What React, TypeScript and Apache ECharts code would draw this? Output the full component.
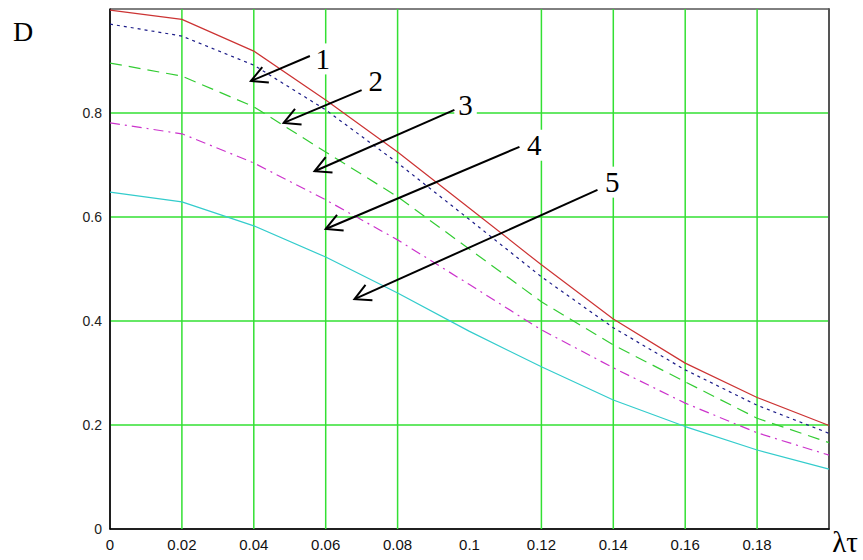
import React, { useEffect, useRef } from "react";
import * as echarts from "echarts";

const xValues = [0, 0.02, 0.04, 0.06, 0.08, 0.1, 0.12, 0.14, 0.16, 0.18, 0.2];
const curve1 = [0.998, 0.98, 0.919, 0.825, 0.725, 0.617, 0.508, 0.404, 0.319, 0.253, 0.199];
const curve2 = [0.971, 0.948, 0.892, 0.806, 0.704, 0.595, 0.485, 0.387, 0.306, 0.238, 0.184];
const curve3 = [0.896, 0.871, 0.812, 0.725, 0.639, 0.538, 0.437, 0.354, 0.283, 0.213, 0.166];
const curve4 = [0.781, 0.76, 0.704, 0.633, 0.556, 0.47, 0.383, 0.31, 0.242, 0.185, 0.142];
const curve5 = [0.648, 0.629, 0.583, 0.523, 0.454, 0.38, 0.312, 0.248, 0.197, 0.152, 0.115];

const xTickLabels = ["0", "0.02", "0.04", "0.06", "0.08", "0.1", "0.12", "0.14", "0.16", "0.18", ""];
const yTickLabels = ["0", "0.2", "0.4", "0.6", "0.8", ""];
const xGridValues = [0.02, 0.04, 0.06, 0.08, 0.12, 0.14, 0.16, 0.18];

// arrow annotations in data coordinates
const arrowLabels = ["1", "2", "3", "4", "5"];
const arrowTails = [
  [0.0556, 0.9096],
  [0.07, 0.844],
  [0.0958, 0.806],
  [0.1139, 0.735],
  [0.1356, 0.652],
];
const arrowTips = [
  [0.0392, 0.8615],
  [0.0483, 0.781],
  [0.0569, 0.688],
  [0.06, 0.577],
  [0.068, 0.442],
];
const labelPos = [
  [0.0592, 0.904],
  [0.0739, 0.8615],
  [0.0989, 0.815],
  [0.118, 0.738],
  [0.1397, 0.667],
];

const GRID_GREEN = "#33e033";
const SERIF = "Liberation Serif, Times New Roman, serif";

export default function App() {
  const ref = useRef<HTMLDivElement>(null);

  useEffect(() => {
    if (!ref.current) return;
    const chart = echarts.init(ref.current, null, { renderer: "svg" });
    const pair = (arr: number[]) => xValues.map((x, i) => [x, arr[i]]);

    const mkLine = (name: string, data: number[], color: string, type: any) => ({
      name,
      type: "line",
      data: pair(data),
      symbol: "none",
      z: 3,
      lineStyle: { color, width: 1.2, type },
      silent: true,
    });

    chart.setOption({
      animation: false,
      backgroundColor: "#ffffff",
      grid: {
        left: 110,
        top: 9,
        right: 34,
        bottom: 31,
        show: true,
        borderColor: "#000",
        borderWidth: 1,
        backgroundColor: "transparent",
      },
      xAxis: [
        {
          type: "value",
          min: 0,
          max: 0.2,
          interval: 0.02,
          axisLine: { show: true, lineStyle: { color: "#000", width: 1.5 } },
          axisTick: { show: false },
          splitLine: { show: false },
          axisLabel: {
            margin: 8,
            color: "#111",
            fontFamily: "Liberation Sans Narrow, Liberation Sans, sans-serif",
            fontSize: 15,
            formatter: (_v: number, i: number) => xTickLabels[i] ?? "",
          },
        },
      ],
      yAxis: [
        {
          type: "value",
          min: 0,
          max: 1,
          interval: 0.2,
          axisLine: { show: true, lineStyle: { color: "#000", width: 1.5 } },
          axisTick: { show: false },
          splitLine: {
            show: true,
            showMinLine: false,
            showMaxLine: false,
            lineStyle: { color: GRID_GREEN, width: 1.5 },
          },
          axisLabel: {
            margin: 8,
            color: "#222",
            fontFamily: "Liberation Sans, Arial, sans-serif",
            fontSize: 14,
            formatter: (_v: number, i: number) => yTickLabels[i] ?? "",
          },
        },
        {
          type: "value",
          position: "right",
          min: 0,
          max: 1,
          axisLine: { show: true, lineStyle: { color: "#555", width: 2 } },
          axisTick: { show: false },
          axisLabel: { show: false },
          splitLine: { show: false },
        },
      ],
      series: [
        {
          type: "custom",
          z: 1,
          silent: true,
          data: xGridValues,
          renderItem: (_params: any, api: any) => {
            const x = api.value(0);
            const p0 = api.coord([x, 0]);
            const p1 = api.coord([x, 1]);
            return {
              type: "line",
              shape: { x1: p0[0], y1: p0[1], x2: p1[0], y2: p1[1] },
              style: { stroke: GRID_GREEN, lineWidth: 1.5 },
            };
          },
          encode: { x: 0 },
        },
        mkLine("1", curve1, "#cc3333", "solid"),
        mkLine("2", curve2, "#1c1c88", [3, 4]),
        mkLine("3", curve3, "#33cc33", [12, 7]),
        mkLine("4", curve4, "#cc33cc", [10, 5, 2, 5]),
        mkLine("5", curve5, "#33cccc", "solid"),
      ],
    });

    const px = (p: number[]) => chart.convertToPixel({ gridIndex: 0 }, p) as number[];
    const graphics: any[] = [];
    const headLen = 18;
    const half = (28 * Math.PI) / 180;
    arrowLabels.forEach((lab, i) => {
      const t = px(arrowTails[i]);
      const h = px(arrowTips[i]);
      const ang = Math.atan2(t[1] - h[1], t[0] - h[0]);
      const a1 = [h[0] + headLen * Math.cos(ang + half), h[1] + headLen * Math.sin(ang + half)];
      const a2 = [h[0] + headLen * Math.cos(ang - half), h[1] + headLen * Math.sin(ang - half)];
      graphics.push({
        type: "line",
        z: 50,
        shape: { x1: t[0], y1: t[1], x2: h[0], y2: h[1] },
        style: { stroke: "#000", lineWidth: 2 },
      });
      graphics.push({
        type: "polyline",
        z: 50,
        shape: { points: [a1, h, a2] },
        style: { stroke: "#000", lineWidth: 2, fill: "none" },
      });
      const lp = px(labelPos[i]);
      graphics.push({
        type: "text",
        z: 49,
        x: lp[0],
        y: lp[1],
        style: {
          text: lab,
          fontFamily: SERIF,
          fontSize: 29,
          fill: "#000",
          align: "center",
          verticalAlign: "middle",
          backgroundColor: "#fff",
          padding: [1, 4, 1, 4],
        },
      });
    });
    graphics.push({
      type: "text",
      x: 23,
      y: 31,
      style: {
        text: "D",
        fontFamily: SERIF,
        fontSize: 28,
        fill: "#000",
        align: "center",
        verticalAlign: "middle",
      },
    });
    graphics.push({
      type: "text",
      x: 845,
      y: 542,
      style: {
        text: "λτ",
        fontFamily: SERIF,
        fontSize: 29,
        fill: "#000",
        align: "center",
        verticalAlign: "middle",
      },
    });
    chart.setOption({ graphic: graphics });

    return () => chart.dispose();
  }, []);

  return (
    <div
      ref={ref}
      style={{ position: "fixed", left: 0, top: 0, width: 863, height: 560, background: "#fff" }}
    />
  );
}
